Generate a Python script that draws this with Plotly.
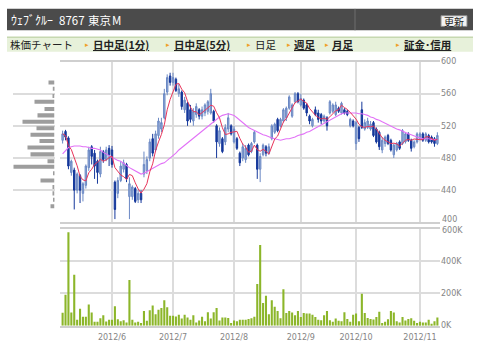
import pandas as pd
import plotly.graph_objects as go

# ---------------- data ----------------
holidays = ["2012-07-16", "2012-09-17", "2012-10-08"]
dates = [d for d in pd.bdate_range("2012-05-09", "2012-11-09")
         if d.strftime("%Y-%m-%d") not in holidays]

open_ = [502, 513, 505, 462, 465, 440, 458, 436, 446, 468,
         494, 486, 476, 460, 488, 478, 492, 490, 450, 436,
         452, 466, 472, 432, 432, 442, 428, 436, 460, 464,
         480, 504, 490, 508, 516, 530, 562, 582, 574, 578,
         560, 562, 540, 548, 540, 526, 534, 540, 532, 536,
         538, 536, 538, 520, 498, 504, 500, 516, 520, 500,
         504, 486, 480, 478, 496, 488, 500, 496, 466, 484,
         494, 486, 504, 512, 528, 520, 526, 530, 542, 532,
         550, 560, 546, 552, 546, 532, 520, 540, 536, 534,
         526, 530, 536, 538, 534, 542, 536, 540, 538, 520,
         526, 498, 518, 540, 516, 518, 516, 524, 516, 512,
         490, 498, 508, 502, 484, 490, 500, 498, 500, 510,
         502, 494, 500, 504, 510, 502, 508, 506, 504, 498]
high = [514, 515, 507, 478, 468, 462, 460, 450, 472, 494,
        496, 490, 478, 494, 490, 494, 496, 495, 452, 456,
        476, 478, 474, 456, 446, 444, 440, 440, 488, 482,
        504, 510, 514, 530, 530, 566, 584, 586, 586, 580,
        572, 564, 556, 550, 546, 542, 548, 542, 544, 548,
        552, 566, 540, 522, 518, 506, 522, 536, 522, 520,
        506, 488, 498, 496, 498, 500, 514, 498, 486, 498,
        496, 498, 522, 524, 530, 530, 542, 544, 558, 548,
        562, 562, 560, 554, 548, 534, 530, 544, 540, 536,
        534, 532, 552, 548, 550, 544, 550, 542, 540, 530,
        528, 526, 520, 550, 528, 530, 526, 526, 518, 514,
        506, 508, 510, 504, 498, 500, 502, 516, 512, 512,
        504, 502, 512, 512, 512, 512, 510, 508, 506, 512]
low = [498, 502, 466, 458, 416, 436, 424, 426, 442, 464,
       472, 454, 448, 456, 474, 476, 470, 468, 404, 430,
       450, 462, 450, 404, 428, 424, 424, 424, 456, 460,
       476, 482, 488, 504, 512, 528, 558, 570, 570, 562,
       556, 540, 536, 520, 524, 520, 530, 528, 528, 532,
       534, 534, 524, 480, 494, 486, 496, 512, 508, 498,
       490, 470, 476, 474, 482, 486, 498, 454, 450, 482,
       482, 484, 502, 510, 512, 518, 524, 526, 540, 530,
       548, 548, 544, 540, 532, 522, 518, 532, 524, 522,
       524, 514, 534, 536, 532, 536, 534, 534, 532, 518,
       518, 490, 500, 516, 514, 516, 514, 506, 498, 490,
       486, 494, 496, 488, 480, 488, 490, 496, 498, 500,
       488, 492, 498, 502, 500, 500, 498, 498, 494, 496]
close = [510, 506, 470, 476, 440, 460, 440, 448, 470, 490,
         482, 470, 462, 488, 478, 490, 484, 472, 416, 452,
         470, 474, 454, 448, 444, 426, 436, 428, 472, 478,
         500, 486, 510, 526, 524, 560, 580, 574, 580, 564,
         566, 544, 552, 526, 528, 538, 544, 532, 540, 546,
         550, 560, 526, 500, 514, 488, 518, 530, 510, 516,
         492, 474, 494, 492, 484, 498, 512, 466, 482, 496,
         486, 494, 520, 522, 514, 528, 540, 542, 556, 546,
         560, 550, 554, 542, 536, 526, 528, 534, 528, 526,
         532, 520, 550, 546, 546, 538, 548, 536, 534, 528,
         520, 524, 504, 518, 524, 526, 522, 508, 500, 494,
         502, 506, 498, 490, 496, 498, 492, 514, 510, 502,
         492, 500, 510, 510, 502, 510, 500, 500, 498, 508]
ma25 = [485, 489, 493, 494, 495, 495, 495, 494, 494, 493,
        492, 492, 491, 490, 487, 485, 482, 480, 478, 477,
        476, 473, 470, 468, 466, 464, 461, 460, 461, 463,
        466, 468, 470, 471, 473, 474, 477, 480, 482, 486,
        490, 493, 496, 499, 502, 505, 508, 511, 514, 516,
        519, 522, 525, 528, 531, 533, 534, 535, 534, 533,
        530, 527, 523, 520, 518, 516, 514, 512, 511, 509,
        508, 506, 505, 504, 503, 502, 503, 504, 504, 505,
        506, 508, 509, 510, 512, 513, 515, 517, 519, 522,
        524, 526, 528, 530, 532, 534, 535, 536, 536, 536,
        536, 536, 535, 535, 534, 533, 531, 530, 528, 527,
        525, 523, 522, 520, 518, 516, 515, 513, 512, 510,
        509, 507, 506, 505, 504, 504, 504, 503, 503, 503]
volume_k = [80, 192, 580, 81, 317, 36, 105, 55, 55, 131,
            81, 24, 24, 46, 65, 26, 36, 36, 121, 40,
            28, 34, 20, 283, 36, 20, 24, 16, 91, 30,
            95, 125, 71, 99, 109, 158, 115, 61, 61, 57,
            67, 44, 67, 51, 36, 65, 20, 32, 55, 28,
            83, 45, 83, 109, 32, 51, 51, 48, 16, 32,
            28, 36, 36, 36, 42, 46, 55, 259, 501, 141,
            186, 71, 158, 117, 91, 46, 226, 79, 91, 81,
            65, 91, 53, 79, 75, 75, 67, 53, 36, 34,
            65, 91, 34, 24, 44, 30, 28, 83, 42, 24,
            67, 75, 28, 198, 79, 48, 42, 38, 53, 87,
            16, 24, 40, 91, 81, 28, 20, 53, 32, 42,
            46, 30, 16, 24, 20, 20, 36, 12, 28, 51]

# volume-by-price profile (left histogram)
vbp_price = [420, 428, 436, 444, 452, 461, 469, 476, 484.5, 493,
             501, 509, 517, 525, 533, 541, 550, 557, 566, 574]
vbp_size = [4, 1, 2, 2, 14, 1, 41, 7, 24, 27,
            15, 24, 18, 32, 17, 10, 20, 2, 1.7, 6]

price_ticks = [400, 440, 480, 520, 560, 600]
price_tick_text = ["", "440", "480", "520", "560", "600"]
vol_ticks = [0, 200000, 400000, 600000]
vol_tick_text = ["0K", "200K", "400K", ""]

# ---------------- derived ----------------
idx = list(range(len(dates)))
ma5 = pd.Series(close).rolling(5, min_periods=1).mean().tolist()
volume = [v * 1000 for v in volume_k]
month_idx, month_lbl = [], []
for i, d in enumerate(dates):
    if i > 0 and d.month != dates[i - 1].month:
        month_idx.append(i)
        month_lbl.append(f"{d.year}/{d.month}")

W, H = 480, 355
def px(x): return x / W
def py(y): return 1 - y / H

GRID = "#dcdcdc"
FRAME = "#cfcfcf"
TICKF = dict(family="DejaVu Sans", size=8, color="#858585")

fig = go.Figure()
fig.add_trace(go.Bar(x=vbp_size, y=vbp_price, orientation="h", xaxis="x3", yaxis="y",
                     width=5, marker=dict(color="#9d9d9d", line=dict(width=0)),
                     hoverinfo="skip"))
fig.add_trace(go.Candlestick(
    x=idx, open=open_, high=high, low=low, close=close, xaxis="x", yaxis="y",
    increasing=dict(line=dict(color="#6a88c4", width=1), fillcolor="#93abd8"),
    decreasing=dict(line=dict(color="#15389b", width=1), fillcolor="#15389b"),
    whiskerwidth=0))
fig.add_trace(go.Scatter(x=idx, y=ma25, mode="lines", xaxis="x", yaxis="y",
                         line=dict(color="#e272f7", width=1.1)))
fig.add_trace(go.Scatter(x=idx, y=ma5, mode="lines", xaxis="x", yaxis="y",
                         line=dict(color="#e8345a", width=1)))
fig.add_trace(go.Bar(x=idx, y=volume, xaxis="x2", yaxis="y2", width=0.72,
                     marker=dict(color="#8cb62a", line=dict(width=0))))

xr = [-0.9, 129.9]
common_x = dict(domain=[px(60), px(440)], range=xr, tickvals=month_idx,
                showgrid=True, gridcolor=GRID, gridwidth=1.5, zeroline=False,
                showline=True, mirror=True, linecolor=FRAME, linewidth=1.5,
                ticks="", fixedrange=True)
fig.update_layout(
    width=W, height=H, margin=dict(l=0, r=0, t=0, b=0),
    paper_bgcolor="white", plot_bgcolor="white", showlegend=False,
    xaxis=dict(**common_x, anchor="y", showticklabels=False,
               rangeslider=dict(visible=False)),
    yaxis=dict(domain=[py(224), py(59)], range=[400, 600], tickvals=price_ticks,
               ticktext=price_tick_text,
               side="right", anchor="x", showgrid=True, gridcolor=GRID, gridwidth=1.5,
               zeroline=False, showline=False, tickfont=TICKF, ticks=""),
    xaxis2=dict(**common_x, anchor="y2", ticktext=month_lbl, tickfont=TICKF,
                ticklabelstandoff=3),
    yaxis2=dict(domain=[py(330), py(231)], range=[0, 600000], tickvals=vol_ticks,
                ticktext=vol_tick_text, side="right", anchor="x2", showgrid=True,
                gridcolor=GRID, gridwidth=1.5, zeroline=False, showline=False,
                tickfont=TICKF, ticks=""),
    xaxis3=dict(domain=[px(13), px(54.5)], range=[41.5, 0], anchor="y",
                visible=False, fixedrange=True),
)

# ---------------- header ----------------
shapes = [
    dict(type="rect", xref="paper", yref="paper", x0=px(7), x1=px(473), y0=py(27), y1=py(5),
         fillcolor="#4b4b4b", line=dict(width=0)),
    dict(type="line", xref="paper", yref="paper", x0=px(355), x1=px(355), y0=py(27), y1=py(5),
         line=dict(color="#6e6e6e", width=1)),
    dict(type="rect", xref="paper", yref="paper", x0=px(441), x1=px(467), y0=py(23), y1=py(12),
         fillcolor="#f3f3f3", line=dict(color="#8a8a8a", width=1)),
    dict(type="rect", xref="paper", yref="paper", x0=px(7), x1=px(473), y0=py(49), y1=py(34),
         fillcolor="#e7f1da", line=dict(width=0)),
    dict(type="line", xref="paper", yref="paper", x0=px(7), x1=px(473), y0=py(34), y1=py(34),
         line=dict(color="#c6d8b0", width=1.5)),
]
fig.update_layout(shapes=shapes)

JP = "Noto Sans CJK JP"
ann = []
def txt(x, y, s, size=11, color="#222222", bold=False, under=False, anchor="left"):
    f = dict(family=JP, size=size, color=color)
    if bold:
        f["weight"] = "bold"
    if under:
        f["lineposition"] = "under"
    ann.append(dict(xref="paper", yref="paper", x=px(x), y=py(y), text=s, showarrow=False,
                    xanchor=anchor, yanchor="middle", font=f))

# the two axis labels that meet at the panel gap (400 / 600K)
for lbl, yy in (("400", 221.5), ("600K", 232.5)):
    ann.append(dict(xref="paper", yref="paper", x=px(440.5), y=py(yy), text=lbl,
                    showarrow=False, xanchor="left", yanchor="middle",
                    font=TICKF, borderpad=0))

txt(9, 16, "ｳｪﾌﾞｸﾙｰ", 12, "white")
txt(57, 16, "8767", 11.5, "white")
txt(86, 16, "東京", 11.5, "white")
txt(110, 16, "M", 11.5, "white")
txt(454, 17.5, "更新", 10, "#222222", anchor="center")

txt(8, 42, "株価チャート", 10.5)
nav = [(83, 91, "日中足(1分)", True), (164, 172, "日中足(5分)", True),
       (245, 253, "日足", False), (285, 292, "週足", True),
       (323, 330, "月足", True), (394, 402, "証金･信用", True)]
for ax_, tx, s, link in nav:
    ann.append(dict(xref="paper", yref="paper", x=px(ax_), y=py(42), text="▸",
                    showarrow=False, xanchor="left", yanchor="middle",
                    font=dict(family="DejaVu Sans", size=7, color="#f0a02a")))
    txt(tx, 42, s, 10.5, "#222222", bold=link, under=link)
fig.update_layout(annotations=ann)

fig.write_html("out.html")
